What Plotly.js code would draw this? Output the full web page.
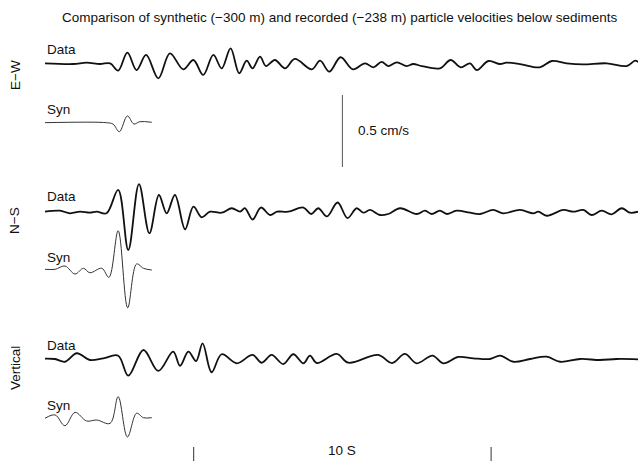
<!DOCTYPE html>
<html><head><meta charset="utf-8">
<script src="https://cdn.plot.ly/plotly-3.0.1.min.js"></script>
<style>html,body{margin:0;padding:0;background:#fff}#chart{width:638px;height:461px}</style>
</head><body><div id="chart"></div>
<script>
// Time (s) and particle velocity (cm/s)
const ewDataT = [0,0.95,1.40,1.85,2.19,2.46,2.77,3.08,3.40,3.81,4.20,4.65,4.99,5.32,5.66,5.94,6.24,6.53,6.78,6.98,7.23,7.43,7.73,8.07,8.40,8.97,9.25,9.56,9.94,10.35,10.76,11.04,11.32,11.54,11.83,12.16,12.38,12.67,13.28,13.64,13.98,14.29,14.52,14.91,15.30,15.52,15.97,16.64,17.04,17.54,18.10,18.89,19.56,19.84,19.94];
const ewDataV = [0,-0.005,0.004,-0.005,0,-0.051,0.074,-0.047,0.058,-0.104,0.069,-0.042,0.023,-0.081,0.058,-0.035,0.104,-0.069,0.018,-0.035,0.046,-0.019,0.023,-0.035,0.03,-0.042,0.018,-0.058,0.042,-0.042,0,-0.028,0.01,-0.019,0.007,-0.019,-0.005,-0.019,-0.035,0.023,-0.028,0,-0.047,0.016,-0.005,0.004,-0.005,-0.028,0.016,0,-0.007,0,-0.019,0.018,0.009];
const ewSynT = [0,2.07,2.29,2.50,2.77,2.99,3.19,3.59];
const ewSynV = [0,0,-0.01,-0.0625,0.047,-0.009,0.007,0.003];

const nsDataT = [0,0.50,0.84,1.18,1.51,1.74,2.07,2.46,2.80,3.16,3.51,3.83,4.09,4.37,4.71,4.99,5.27,5.55,5.94,6.28,6.56,6.72,6.98,7.26,7.57,7.80,8.18,8.69,8.95,9.19,9.48,9.84,10.17,10.48,10.70,10.93,11.26,11.54,11.94,12.50,12.78,13.00,13.28,13.51,13.84,14.29,14.63,15.07,15.41,15.97,16.42,16.59,16.87,17.43,17.76,18.10,18.38,18.72,19.05,19.39,19.67,19.94];
const nsDataV = [0,0.007,-0.011,0,-0.007,0,-0.011,0.151,-0.266,0.192,-0.150,0.116,-0.011,0.116,-0.122,0.035,-0.039,0,-0.007,0.024,0,0.024,-0.054,0.029,-0.023,0,0,0.029,-0.016,0.024,-0.033,0.064,-0.044,0.024,-0.007,0.012,-0.023,-0.016,0.024,-0.016,0.007,-0.016,0.007,-0.016,0.007,-0.007,-0.016,0.012,-0.011,0.012,-0.011,0,-0.028,0.012,0,0.012,-0.023,0.007,-0.018,0.024,-0.007,0];
const nsSynT = [0,0.34,0.67,1.01,1.29,1.51,1.91,2.15,2.46,2.78,3.08,3.31,3.59];
const nsSynV = [0,0,0.023,-0.033,0.007,-0.024,0.007,-0.056,0.268,-0.267,0.037,0.007,-0.005];

const vtDataT = [0,0.34,0.67,1.07,1.51,1.96,2.46,2.80,3.31,3.81,4.31,4.54,4.82,5.08,5.30,5.60,5.94,6.45,6.98,7.29,7.62,8.01,8.35,8.69,8.91,9.14,9.81,10.20,11.20,11.67,12.10,12.50,13.03,13.39,13.90,14.40,14.96,15.30,15.75,16.31,16.87,17.32,17.99,18.66,19.22,19.94];
const vtDataV = [0.003,0,-0.019,0.040,-0.007,0.005,0.023,-0.116,0.0625,-0.083,0.051,-0.047,0.051,-0.014,0.109,-0.092,0.033,-0.030,0.028,-0.026,0.028,-0.035,0.033,-0.030,0.024,-0.028,0.035,-0.026,0.028,-0.028,0.035,-0.030,0.024,-0.030,0.014,0.005,0,0.023,-0.019,0,0.016,-0.019,0,-0.007,0,-0.002];
const vtSynT = [0,0.34,0.67,1.01,1.40,1.74,2.19,2.46,2.77,3.08,3.31,3.59];
const vtSynV = [-0.004,0.019,-0.056,0.037,-0.023,-0.016,-0.039,0.146,-0.134,0.031,0,0];

const componentLabels = ['E\u2212W', 'N\u2212S', 'Vertical'];
const traceLabels = ['Data', 'Syn'];
const timeBarTicks = [5, 15];      // s
const timeBarLabel = '10 S';
const velBarTime = 10;             // s
const velBarLength = 0.5;          // cm/s
const velBarLabel = '0.5 cm/s';
const titleText = 'Comparison of synthetic (\u2212300 m) and recorded (\u2212238 m) particle velocities below sediments';

// ---- layout constants (positions / styles) ----
const W = 638, H = 461;
const PX_PER_S = 29.74, T0_PX = 45;   // horizontal scale
const PX_PER_CMS = 144;               // vertical scale
const baselinesPx = [63.3, 122.7, 211.7, 269.3, 359, 417.7];
const offsets = baselinesPx.map(p => -p / PX_PER_CMS);

const series = [
  [ewDataT, ewDataV], [ewSynT, ewSynV],
  [nsDataT, nsDataV], [nsSynT, nsSynV],
  [vtDataT, vtDataV], [vtSynT, vtSynV]
];

const traces = series.map((s, i) => {
  const isData = i % 2 === 0;
  return {
    type: 'scatter', mode: 'lines',
    x: s[0], y: s[1].map(v => v + offsets[i]),
    line: {shape: 'spline', smoothing: 1, color: isData ? '#111' : '#333', width: isData ? 1.8 : 1},
    hoverinfo: 'skip'
  };
});

const font = {family: '"Liberation Sans", Arial, sans-serif', size: 13.5, color: '#111'};
const annotations = [];
annotations.push({text: titleText, xref: 'paper', yref: 'paper', x: 340 / W, y: 1 - 18 / H,
  xanchor: 'center', yanchor: 'middle', showarrow: false, font: font});
const labelYpx = [50, 110, 197, 257, 345, 405];
labelYpx.forEach((py, i) => annotations.push({text: traceLabels[i % 2], xref: 'paper', yref: 'paper',
  x: 45 / W, y: 1 - py / H, xanchor: 'left', yanchor: 'middle', showarrow: false, font: font}));
const compYpx = [75, 221, 368];
compYpx.forEach((py, i) => annotations.push({text: componentLabels[i], xref: 'paper', yref: 'paper',
  x: 15 / W, y: 1 - py / H, xanchor: 'center', yanchor: 'middle', textangle: -90, showarrow: false, font: font}));
annotations.push({text: velBarLabel, xref: 'paper', yref: 'paper', x: 356 / W, y: 1 - 130 / H,
  xanchor: 'left', yanchor: 'middle', showarrow: false, font: font});
annotations.push({text: timeBarLabel, xref: 'x', yref: 'paper', x: (timeBarTicks[0] + timeBarTicks[1]) / 2, y: 1 - 450 / H,
  xanchor: 'center', yanchor: 'middle', showarrow: false, font: font});

const yTop = 0, yBot = -H / PX_PER_CMS;
const velTopPx = 95;
const shapes = [];
shapes.push({type: 'line', xref: 'x', yref: 'y', x0: velBarTime, x1: velBarTime,
  y0: -velTopPx / PX_PER_CMS, y1: -velTopPx / PX_PER_CMS - velBarLength, line: {color: '#555', width: 1}});
timeBarTicks.forEach(t => shapes.push({type: 'line', xref: 'x', yref: 'y', x0: t, x1: t,
  y0: -447 / PX_PER_CMS, y1: yBot, line: {color: '#333', width: 1}}));

const layout = {
  width: W, height: H, margin: {l: 0, r: 0, t: 0, b: 0},
  paper_bgcolor: '#fff', plot_bgcolor: '#fff', showlegend: false,
  xaxis: {range: [-T0_PX / PX_PER_S, (W - T0_PX) / PX_PER_S], visible: false, fixedrange: true},
  yaxis: {range: [yBot, yTop], visible: false, fixedrange: true},
  annotations: annotations, shapes: shapes
};
Plotly.newPlot('chart', traces, layout, {displayModeBar: false, staticPlot: true});
</script></body></html>
